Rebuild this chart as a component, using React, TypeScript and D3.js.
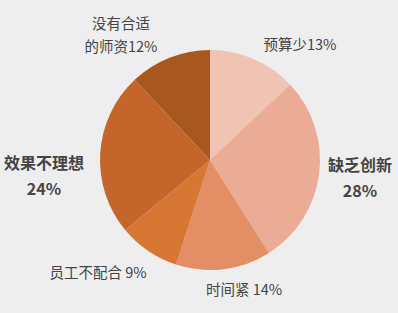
import React from "react";
import * as d3 from "d3";

const categories = ["预算少", "缺乏创新", "时间紧", "员工不配合", "效果不理想", "没有合适的师资"];
const values = [13, 28, 14, 9, 24, 12];
const colors = ["#f0c3b3", "#eaac94", "#e38e65", "#d87634", "#c4662b", "#a8581f"];

type Lbl = { lines: string[]; x: number; y: number; bold: boolean };
const labels: Lbl[] = [
  { lines: ["预算少13%"], x: 300, y: 43, bold: false },
  { lines: ["缺乏创新", "28%"], x: 360, y: 164, bold: true },
  { lines: ["时间紧 14%"], x: 244, y: 288, bold: false },
  { lines: ["员工不配合 9%"], x: 98, y: 271, bold: false },
  { lines: ["效果不理想", "24%"], x: 44, y: 162, bold: true },
  { lines: ["没有合适", "的师资12%"], x: 121, y: 22, bold: false },
];

export default function App() {
  const W = 398, H = 313;
  const cx = 210, cy = 160, r = 110;
  const pie = d3.pie<number>().sort(null).value((d) => d);
  const arcs = pie(values);
  const arc = d3.arc<d3.PieArcDatum<number>>().innerRadius(0).outerRadius(r);
  return (
    <svg width={W} height={H} style={{ position: "fixed", left: 0, top: 0, background: "#eeeeee" }}
      fontFamily="'Noto Sans CJK SC', 'Noto Sans', sans-serif">
      <rect width={W} height={H} fill="#eeeeee" />
      <g transform={`translate(${cx},${cy})`}>
        {arcs.map((a, i) => (
          <path key={categories[i]} d={arc(a) || ""} fill={colors[i]} />
        ))}
      </g>
      {labels.map((l, i) => (
        <text key={i} x={l.x} y={l.y} textAnchor="middle" dominantBaseline="central"
          fontSize={l.bold ? 16 : 14.5} fontWeight={l.bold ? 700 : 400} fill="#444444">
          {l.lines.map((s, j) => (
            <tspan key={j} x={l.x} dy={j === 0 ? 0 : l.bold ? 26 : 23}>{s}</tspan>
          ))}
        </text>
      ))}
    </svg>
  );
}
